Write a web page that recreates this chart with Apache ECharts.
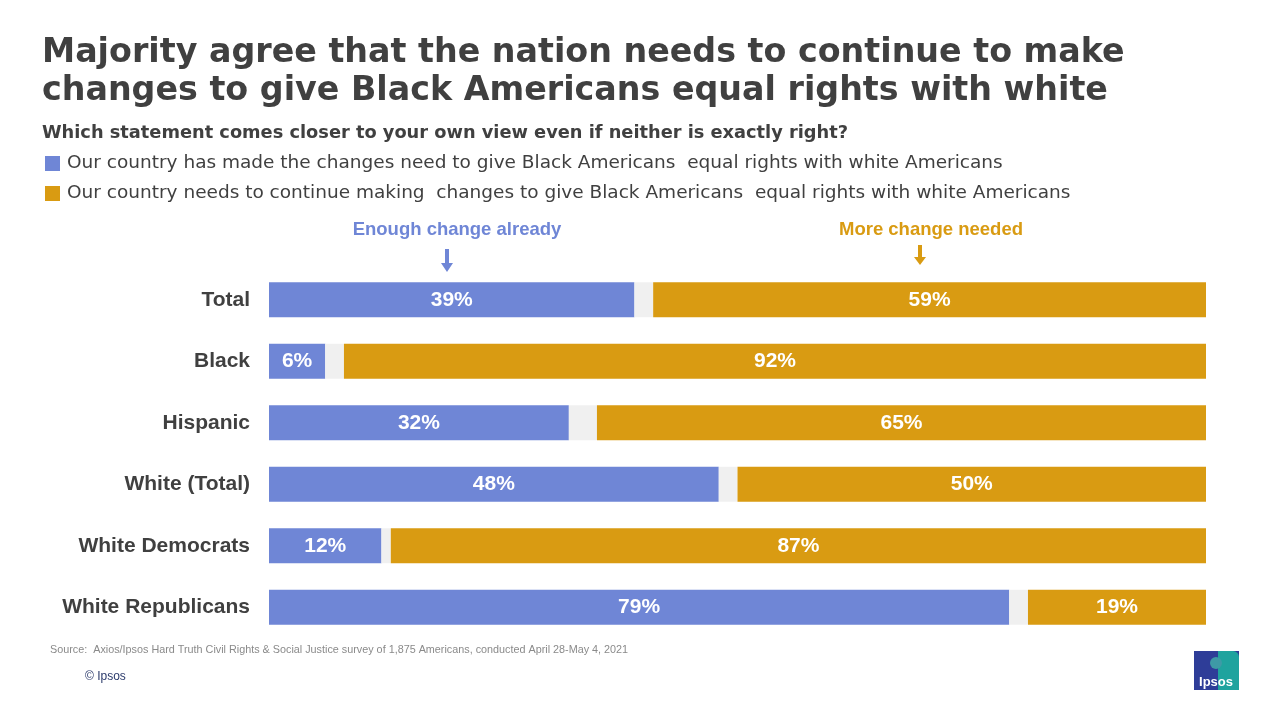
<!DOCTYPE html>
<html>
<head>
<meta charset="utf-8">
<script src="https://cdn.jsdelivr.net/npm/echarts@6/dist/echarts.min.js"></script>
<style>html,body{margin:0;padding:0;background:#fff;}#c{width:1280px;height:720px;}</style>
</head>
<body>
<div id="c"></div>
<script>
const categories = ['Total', 'Black', 'Hispanic', 'White (Total)', 'White Democrats', 'White Republicans'];
const enoughChange = [39, 6, 32, 48, 12, 79];
const moreChange = [59, 92, 65, 50, 87, 19];
const seriesNames = [
  'Our country has made the changes need to give Black Americans  equal rights with white Americans',
  'Our country needs to continue making  changes to give Black Americans  equal rights with white Americans'
];
const gapValues = categories.map((c, i) => 100 - enoughChange[i] - moreChange[i]);

const BLUE = '#6F86D6', GOLD = '#D99B12', GAP = '#F0F0F0', TXT = '#404040';
const font = 'Arial, "Liberation Sans", sans-serif';
const wide = '"DejaVu Sans", sans-serif';

const chart = echarts.init(document.getElementById('c'));
const valueLabel = {
  show: true, position: 'inside', color: '#fff', fontSize: 21, fontWeight: 'bold', fontFamily: font,
  formatter: p => p.value + '%'
};
chart.setOption({
  backgroundColor: '#fff',
  animation: false,
  title: [
    { text: 'Majority agree that the nation needs to continue to make\nchanges to give Black Americans equal rights with white',
      left: 37, top: 29,
      textStyle: { fontSize: 33.3, fontWeight: 'bold', color: TXT, fontFamily: wide, lineHeight: 38 } },
    { text: 'Which statement comes closer to your own view even if neither is exactly right?',
      left: 37, top: 119,
      textStyle: { fontSize: 17.8, fontWeight: 'bold', color: TXT, fontFamily: wide } },
    { text: 'Enough change already', left: 452, top: 215, textAlign: 'center',
      textStyle: { fontSize: 18.5, fontWeight: 'bold', color: BLUE, fontFamily: font } },
    { text: 'More change needed', left: 926, top: 215, textAlign: 'center',
      textStyle: { fontSize: 18.5, fontWeight: 'bold', color: GOLD, fontFamily: font } },
    { text: 'Source:  Axios/Ipsos Hard Truth Civil Rights & Social Justice survey of 1,875 Americans, conducted April 28-May 4, 2021',
      left: 45, top: 640,
      textStyle: { fontSize: 10.8, fontWeight: 'normal', color: '#8a8a8a', fontFamily: font } },
    { text: '© Ipsos', left: 80, top: 666,
      textStyle: { fontSize: 12, fontWeight: 'normal', color: '#2b3a6b', fontFamily: font } }
  ],
  legend: {
    orient: 'vertical', left: 40, top: 149, itemGap: 11,
    itemWidth: 15, itemHeight: 15, icon: 'rect',
    data: seriesNames,
    selectedMode: false,
    textStyle: { fontSize: 18.5, color: TXT, fontFamily: wide, padding: [0, 0, 0, 2] }
  },
  grid: { left: 269, right: 74, top: 269, height: 369, containLabel: false },
  xAxis: { type: 'value', min: 0, max: 100, show: false },
  yAxis: {
    type: 'category', data: categories, inverse: true,
    axisLine: { show: false }, axisTick: { show: false },
    axisLabel: { fontSize: 21, fontWeight: 'bold', color: TXT, fontFamily: font, margin: 19 }
  },
  series: [
    { name: seriesNames[0], type: 'bar', stack: 's', data: enoughChange, barWidth: 35,
      itemStyle: { color: BLUE }, label: valueLabel },
    { name: 'gap', type: 'bar', stack: 's', data: gapValues, barWidth: 35,
      itemStyle: { color: GAP }, label: { show: false }, silent: true },
    { name: seriesNames[1], type: 'bar', stack: 's', data: moreChange, barWidth: 35,
      itemStyle: { color: GOLD }, label: valueLabel }
  ],
  graphic: [
    { type: 'polygon', shape: { points: [[445,249],[449,249],[449,263],[453,263],[447,272],[441,263],[445,263]] }, style: { fill: BLUE } },
    { type: 'polygon', shape: { points: [[918,245],[922,245],[922,257],[926,257],[920,265],[914,257],[918,257]] }, style: { fill: GOLD } },
    { type: 'group', left: 1194, top: 651, children: [
      { type: 'rect', shape: { x: 0, y: 0, width: 45, height: 39 }, style: { fill: '#2E3D98' } },
      { type: 'rect', shape: { x: 24, y: 0, width: 21, height: 39, r: [0, 6, 0, 0] }, style: { fill: '#1FA39E' } },
      { type: 'circle', shape: { cx: 22, cy: 12, r: 6 }, style: { fill: '#3E9AA6' } },
      { type: 'text', style: { text: 'Ipsos', x: 22, y: 31, align: 'center', verticalAlign: 'middle', fill: '#fff', font: 'bold 13px Arial, sans-serif' } }
    ] }
  ]
});
</script>
</body>
</html>
